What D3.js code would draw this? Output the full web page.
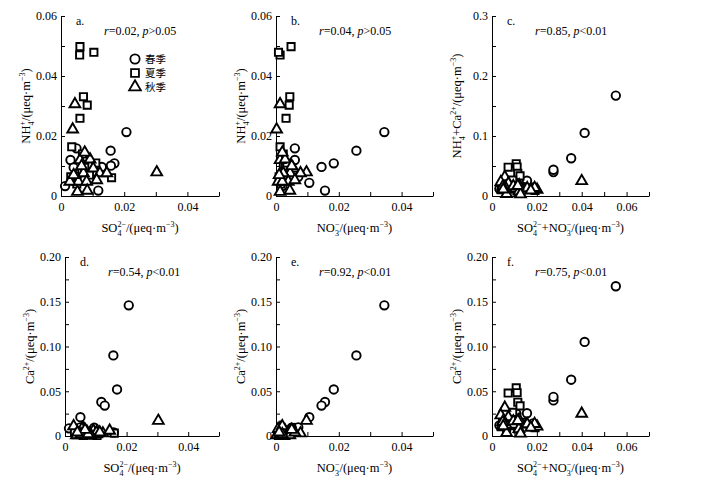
<!DOCTYPE html>
<html>
<head>
<meta charset="utf-8">
<script src="https://cdn.jsdelivr.net/npm/d3@7"></script>
<style>
  body { margin: 0; background: #fff; }
  svg { display: block; }
  svg text { font-family: "Liberation Serif", "Times New Roman", serif; }
  svg text.cjk { font-family: "Noto Sans CJK SC", sans-serif; }
</style>
</head>
<body>
<svg id="chart" width="710" height="483"></svg>
<script>
// per-sample values (μeq·m-3)
const springSO4 = [0.0207, 0.0157, 0.0169, 0.0118, 0.0129, 0.0050, 0.0049, 0.0030, 0.0158, 0.0050, 0.0013, 0.0095, 0.0068, 0.0040];
const springNO3 = [0.0345, 0.0256, 0.0184, 0.0156, 0.0145, 0.0106, 0.0060, 0.0060, 0.0025, 0.0071, 0.0020, 0.0050, 0.0040, 0.0030];
const springNH4 = [0.0213, 0.0151, 0.0109, 0.0018, 0.0097, 0.0044, 0.0159, 0.0120, 0.0101, 0.0064, 0.0033, 0.0055, 0.0080, 0.0095];
const springCa  = [0.146, 0.090, 0.052, 0.038, 0.034, 0.021, 0.0090, 0.0086, 0.0040, 0.0097, 0.0086, 0.0093, 0.0040, 0.0060];

const summerSO4 = [0.0060, 0.0059, 0.0104, 0.0071, 0.0083, 0.0060, 0.0034, 0.0068, 0.0160, 0.0031, 0.0075, 0.0050, 0.0090, 0.0110];
const summerNO3 = [0.0048, 0.0013, 0.0008, 0.0044, 0.0042, 0.0032, 0.0013, 0.0023, 0.0032, 0.0010, 0.0030, 0.0015, 0.0025, 0.0035];
const summerNH4 = [0.0498, 0.0470, 0.0479, 0.0331, 0.0303, 0.0259, 0.0164, 0.0140, 0.0061, 0.0064, 0.0095, 0.0040, 0.0070, 0.0110];
const summerCa  = [0.0040, 0.0010, 0.0005, 0.0046, 0.0033, 0.0006, 0.0020, 0.0030, 0.0032, 0.0040, 0.0020, 0.0030, 0.0010, 0.0025];

const autumnSO4 = [0.0044, 0.0037, 0.0303, 0.0060, 0.0092, 0.0102, 0.0123, 0.0145, 0.0071, 0.0055, 0.0081, 0.0028, 0.0052, 0.0083, 0.0113, 0.0075, 0.0065, 0.0040];
const autumnNO3 = [0.0013, 0.0002, 0.0097, 0.0013, 0.0029, 0.0055, 0.0078, 0.0045, 0.0023, 0.0007, 0.0039, 0.0020, 0.0013, 0.0044, 0.0060, 0.0020, 0.0050, 0.0010];
const autumnNH4 = [0.0306, 0.0222, 0.0079, 0.0120, 0.0122, 0.0092, 0.0076, 0.0076, 0.0076, 0.0048, 0.0048, 0.0048, 0.0014, 0.0018, 0.0053, 0.0145, 0.0100, 0.0070];
const autumnCa  = [0.0010, 0.0010, 0.0170, 0.0090, 0.0060, 0.0040, 0.0030, 0.0060, 0.0050, 0.0080, 0.0030, 0.0110, 0.0020, 0.0010, 0.0040, 0.0020, 0.0070, 0.0040];

const seasonNames = ["春季", "夏季", "秋季"];

// axis ticks and labels
const ticks05 = [0, 0.01, 0.02, 0.03, 0.04, 0.05];
const labels05 = ["0", "", "0.02", "", "0.04", ""];
const ticks07 = [0, 0.01, 0.02, 0.03, 0.04, 0.05, 0.06, 0.07];
const labels07 = ["0", "", "0.02", "", "0.04", "", "0.06", ""];
const ticksNH4 = [0, 0.01, 0.02, 0.03, 0.04, 0.05, 0.06];
const labelsNH4 = ["0", "", "0.02", "", "0.04", "", "0.06"];
const ticksSum = [0, 0.05, 0.1, 0.15, 0.2, 0.25, 0.3];
const labelsSum = ["0", "", "0.1", "", "0.2", "", "0.3"];
const ticksCa = [0, 0.025, 0.05, 0.075, 0.1, 0.125, 0.15, 0.175, 0.2];
const labelsCa = ["0", "", "0.05", "", "0.10", "", "0.15", "", "0.20"];

const panelLetters = ["a.", "b.", "c.", "d.", "e.", "f."];
const statR = ["0.02", "0.04", "0.85", "0.54", "0.92", "0.75"];
const statP = [">0.05", ">0.05", "<0.01", "<0.01", "<0.01", "<0.01"];

const svg = d3.select("#chart");

const seasons = [
  { symbol: d3.symbolCircle, size: 56, so4: springSO4, no3: springNO3, nh4: springNH4, ca: springCa },
  { symbol: d3.symbolSquare, size: 52, so4: summerSO4, no3: summerNO3, nh4: summerNH4, ca: summerCa },
  { symbol: d3.symbolTriangle, size: 50, so4: autumnSO4, no3: autumnNO3, nh4: autumnNH4, ca: autumnCa }
];
const samples = seasons.flatMap((s, k) => s.so4.map((v, i) => ({
  season: k, so4: v, no3: s.no3[i], nh4: s.nh4[i], ca: s.ca[i]
})));

// title pieces: strings are plain text, objects are sub/superscripts
const tSO4 = ["SO", { sub: "4", sup: "2\u2212" }];
const tNO3 = ["NO", { sub: "3", sup: "\u2212" }];
const tNH4 = ["NH", { sub: "4", sup: "+" }];
const unit = ["/(\u03bceq\u00b7m", { sup: "\u22123" }, ")"];

const panels = [
  { x0: 61, x1: 219, top: 16, bottom: 196, xv: d => d.so4, yv: d => d.nh4,
    xt: ticks05, xl: labels05, yt: ticksNH4, yl: labelsNH4,
    xTitle: [...tSO4, ...unit], yTitle: [...tNH4, ...unit] },
  { x0: 276, x1: 433, top: 16, bottom: 196, xv: d => d.no3, yv: d => d.nh4,
    xt: ticks05, xl: labels05, yt: ticksNH4, yl: labelsNH4,
    xTitle: [...tNO3, ...unit], yTitle: [...tNH4, ...unit] },
  { x0: 492, x1: 649, top: 16, bottom: 196, xv: d => d.so4 + d.no3, yv: d => d.nh4 + d.ca,
    xt: ticks07, xl: labels07, yt: ticksSum, yl: labelsSum,
    xTitle: [...tSO4, "+", ...tNO3, ...unit], yTitle: [...tNH4, "+Ca", { sup: "2+" }, ...unit] },
  { x0: 65, x1: 219, top: 257, bottom: 436, xv: d => d.so4, yv: d => d.ca,
    xt: ticks05, xl: labels05, yt: ticksCa, yl: labelsCa,
    xTitle: [...tSO4, ...unit], yTitle: ["Ca", { sup: "2+" }, ...unit] },
  { x0: 276, x1: 433, top: 257, bottom: 436, xv: d => d.no3, yv: d => d.ca,
    xt: ticks05, xl: labels05, yt: ticksCa, yl: labelsCa,
    xTitle: [...tNO3, ...unit], yTitle: ["Ca", { sup: "2+" }, ...unit] },
  { x0: 492, x1: 649, top: 257, bottom: 436, xv: d => d.so4 + d.no3, yv: d => d.nh4 + d.ca,
    xt: ticks07, xl: labels07, yt: ticksCa, yl: labelsCa,
    xTitle: [...tSO4, "+", ...tNO3, ...unit], yTitle: ["Ca", { sup: "2+" }, ...unit] }
];

function richText(el, parts) {
  let off = 0; // current baseline offset, + is down
  for (const p of parts) {
    if (typeof p === "string") {
      el.append("tspan").attr("dy", -off).text(p);
      off = 0;
    } else {
      if (p.sub) {
        el.append("tspan").attr("dy", 3.5 - off).attr("font-size", 8).text(p.sub);
        off = 3.5;
      }
      if (p.sup) {
        const t = el.append("tspan").attr("dy", -5 - off).attr("font-size", 8).text(p.sup);
        if (p.sub) t.attr("dx", -4);
        off = -5;
      }
    }
  }
}

function styleAxis(g) {
  g.attr("font-family", null).attr("font-size", 12);
  g.selectAll("path, line").attr("stroke", "#000");
  g.selectAll("text").attr("fill", "#000");
}

panels.forEach((p, i) => {
  const x = d3.scaleLinear().domain([p.xt[0], p.xt[p.xt.length - 1]]).range([p.x0, p.x1]);
  const y = d3.scaleLinear().domain([p.yt[0], p.yt[p.yt.length - 1]]).range([p.bottom, p.top]);
  const g = svg.append("g");

  g.append("g")
    .attr("transform", `translate(0,${p.bottom})`)
    .call(d3.axisBottom(x).tickValues(p.xt).tickFormat((d, k) => p.xl[k])
      .tickSizeInner(-4).tickSizeOuter(0).tickPadding(6))
    .call(styleAxis);

  g.append("g")
    .attr("transform", `translate(${p.x0},0)`)
    .call(d3.axisLeft(y).tickValues(p.yt).tickFormat((d, k) => p.yl[k])
      .tickSizeInner(-4).tickSizeOuter(0).tickPadding(4))
    .call(styleAxis);

  g.selectAll(".pt")
    .data(samples)
    .join("path")
    .attr("class", "pt")
    .attr("transform", d => `translate(${x(p.xv(d))},${y(p.yv(d))})`)
    .attr("d", d => d3.symbol(seasons[d.season].symbol, seasons[d.season].size)())
    .attr("fill", "#fff")
    .attr("stroke", "#000")
    .attr("stroke-width", 1.9);

  g.append("text")
    .attr("x", p.x0 + 15).attr("y", p.top + 9)
    .attr("font-size", 12)
    .text(panelLetters[i]);

  const st = g.append("text")
    .attr("x", p.x0 + 43).attr("y", p.top + 19)
    .attr("font-size", 12);
  st.append("tspan").attr("font-style", "italic").text("r");
  st.append("tspan").text(`=${statR[i]}, `);
  st.append("tspan").attr("font-style", "italic").text("p");
  st.append("tspan").text(statP[i]);

  const xt = g.append("text")
    .attr("x", (p.x0 + p.x1) / 2).attr("y", p.bottom + 36)
    .attr("text-anchor", "middle").attr("font-size", 12.5);
  richText(xt, p.xTitle);

  const cy = (p.top + p.bottom) / 2;
  const yt = g.append("text")
    .attr("transform", `translate(${p.x0 - 31},${cy}) rotate(-90)`)
    .attr("text-anchor", "middle").attr("font-size", 12.5);
  richText(yt, p.yTitle);
});

// legend in panel a
const legend = svg.append("g").attr("transform", "translate(135,59)");
seasonNames.forEach((name, k) => {
  const row = legend.append("g").attr("transform", `translate(0,${k * 14})`);
  row.append("path")
    .attr("d", d3.symbol(seasons[k].symbol, seasons[k].size * 1.2)())
    .attr("fill", "#fff").attr("stroke", "#000").attr("stroke-width", 1.8);
  row.append("text")
    .attr("class", "cjk")
    .attr("x", 10).attr("y", 0).attr("dy", "0.36em")
    .attr("font-size", 10.5)
    .text(name);
});
</script>
</body>
</html>
